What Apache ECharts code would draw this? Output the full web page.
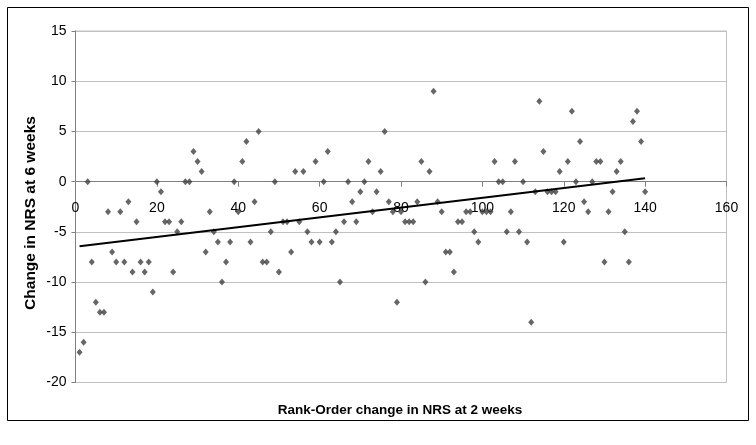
<!DOCTYPE html>
<html>
<head>
<meta charset="utf-8">
<script src="https://cdn.jsdelivr.net/npm/echarts@6/dist/echarts.min.js"></script>
<style>
html,body{margin:0;padding:0;background:#fff;}
#chart{width:756px;height:445px;}
</style>
</head>
<body>
<div id="chart"></div>
<script>
// Rank-order change in NRS at 2 weeks (x = 1..140)
const rankOrder = [];
for (let i = 1; i <= 140; i++) rankOrder.push(i);
// Change in NRS at 6 weeks
const change6w = [
  -17,-16,0,-8,-12,-13,-13,-3,-7,-8,
  -3,-8,-2,-9,-4,-8,-9,-8,-11,0,
  -1,-4,-4,-9,-5,-4,0,0,3,2,
  1,-7,-3,-5,-6,-10,-8,-6,0,-3,
  2,4,-6,-2,5,-8,-8,-5,0,-9,
  -4,-4,-7,1,-4,1,-5,-6,2,-6,
  0,3,-6,-5,-10,-4,0,-2,-4,-1,
  0,2,-3,-1,1,5,-2,-3,-12,-3,
  -4,-4,-4,-2,2,-10,1,9,-2,-3,
  -7,-7,-9,-4,-4,-3,-3,-5,-6,-3,
  -3,-3,2,0,0,-5,-3,2,-5,0,
  -6,-14,-1,8,3,-1,-1,-1,1,-6,
  2,7,0,4,-2,-3,0,2,2,-8,
  -3,-1,1,2,-5,-8,6,7,4,-1
];
const xTicks = {min: 0, max: 160, step: 20};
const yTicks = {min: -20, max: 15, step: 5};
const xTitle = 'Rank-Order change in NRS at 2 weeks';
const yTitle = 'Change in NRS at 6 weeks';

const points = rankOrder.map((x, i) => [x, change6w[i]]);

// least-squares trendline
const n = points.length;
let sx = 0, sy = 0, sxx = 0, sxy = 0;
points.forEach(p => { sx += p[0]; sy += p[1]; sxx += p[0]*p[0]; sxy += p[0]*p[1]; });
const slope = (n*sxy - sx*sy) / (n*sxx - sx*sx);
const icpt = (sy - slope*sx) / n;
const xMin = Math.min(...rankOrder), xMax = Math.max(...rankOrder);
const trend = [[xMin, icpt + slope*xMin], [xMax, icpt + slope*xMax]];

// plot box
const W = 756, H = 445;
const gLeft = 75.5, gRight = 29.5, gTop = 31, gBottom = 62.5;
const plotH = H - gTop - gBottom;
// second grid ends where y = 0 so its x axis crosses at zero (Excel style)
const zeroFrac = (yTicks.max - 0) / (yTicks.max - yTicks.min);
const g2Bottom = H - (gTop + plotH * zeroFrac);

const chart = echarts.init(document.getElementById('chart'), null, {renderer: 'canvas'});
const font = '"Liberation Sans", Arial, sans-serif';
chart.setOption({
  animation: false,
  backgroundColor: '#fff',
  textStyle: {fontFamily: font},
  grid: [
    {left: gLeft, right: gRight, top: gTop, bottom: gBottom, show: true, borderColor: '#c0c0c0', borderWidth: 1},
    {left: gLeft, right: gRight, top: gTop, bottom: g2Bottom, show: false}
  ],
  xAxis: [
    {
      gridIndex: 0, type: 'value', min: xTicks.min, max: xTicks.max, interval: xTicks.step,
      axisLine: {show: false}, axisTick: {show: false}, axisLabel: {show: false}, splitLine: {show: false}
    },
    {
      gridIndex: 1, type: 'value', min: xTicks.min, max: xTicks.max, interval: xTicks.step,
      position: 'bottom',
      axisLine: {show: true, onZero: false, lineStyle: {color: '#808080', width: 1}},
      axisTick: {show: true, length: 5, lineStyle: {color: '#808080'}},
      axisLabel: {color: '#000', fontSize: 14, margin: 19, fontFamily: font},
      splitLine: {show: false}
    }
  ],
  yAxis: [
    {
      gridIndex: 0, type: 'value', min: yTicks.min, max: yTicks.max, interval: yTicks.step,
      axisLine: {show: true, onZero: false, lineStyle: {color: '#808080', width: 1}},
      axisTick: {show: true, length: 4, lineStyle: {color: '#808080'}},
      axisLabel: {color: '#000', fontSize: 14, margin: 9, fontFamily: font},
      splitLine: {show: true, lineStyle: {color: '#c0c0c0', width: 1}}
    },
    {
      gridIndex: 1, type: 'value', min: 0, max: yTicks.max, show: false
    }
  ],
  series: [
    {
      type: 'scatter', xAxisIndex: 0, yAxisIndex: 0, data: points, symbol: 'diamond', symbolSize: [6, 7],
      itemStyle: {color: '#404040'}, z: 3
    },
    {
      type: 'line', xAxisIndex: 0, yAxisIndex: 0, data: trend, showSymbol: false, symbol: 'none',
      lineStyle: {color: '#000', width: 2}, z: 4, silent: true
    }
  ],
  graphic: [
    {type: 'rect', shape: {x: 7.5, y: 7.5, width: 741, height: 413},
     style: {fill: 'none', stroke: '#000', lineWidth: 1}, silent: true},
    {type: 'text', x: 31, y: 213, rotation: Math.PI/2,
     style: {text: yTitle, font: 'bold 15.5px ' + font, fill: '#000', textAlign: 'center', textVerticalAlign: 'middle'}},
    {type: 'text', x: 400, y: 410,
     style: {text: xTitle, font: 'bold 13.5px ' + font, fill: '#000', textAlign: 'center', textVerticalAlign: 'middle'}}
  ]
});
</script>
</body>
</html>
